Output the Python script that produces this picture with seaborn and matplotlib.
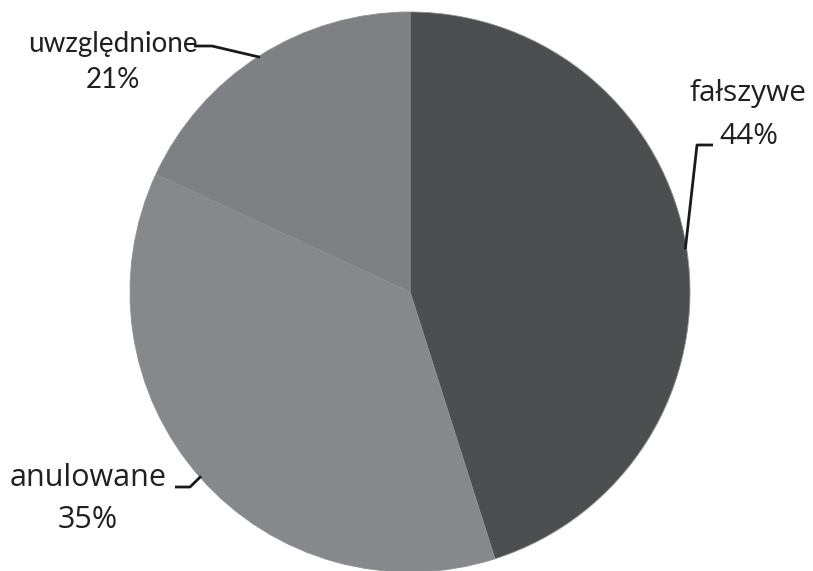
import numpy as np
import matplotlib.pyplot as plt
import seaborn as sns

# Data: slice sizes as drawn in the picture, labels as printed on it
categories = ['fałszywe', 'anulowane', 'uwzględnione']
shares = [45.1, 36.8, 18.1]
pct_labels = ['44%', '35%', '21%']
colors = ['#4d4e50', '#87888c', '#7f8084']

sns.set_theme(style='white')
plt.rcParams['font.family'] = ['Open Sans', 'DejaVu Sans']

W, H = 813, 571
CX, CY, R = 410, 292, 280  # pie centre and radius in pixels


def px(x, y):
    # pixel position -> data coords (radius = 1)
    return (x - CX) / R, (CY - y) / R


fig = plt.figure(figsize=(W / 100, H / 100), dpi=100)
ax = fig.add_axes([0, 0, 1, 1])
wedges, _ = ax.pie(shares, colors=colors, startangle=90, counterclock=False,
                   radius=1, wedgeprops=dict(edgecolor='#8e8f93', linewidth=0.6))
ax.set_xlim(-CX / R, (W - CX) / R)
ax.set_ylim(-(H - CY) / R, CY / R)
ax.axis('off')

txt_col = '#231f20'
# label layout: name position, pct position, elbow points, font
layout = {
    'fałszywe': dict(name=(748, 93), pct=(749, 137), elbow=[(713, 145), (697, 145)],
                     family='Open Sans', size=21.5),
    'anulowane': dict(name=(88, 478), pct=(88, 520), elbow=[(175, 487), (190, 487)],
                      family='Open Sans', size=22),
    'uwzględnione': dict(name=(113, 44), pct=(113, 80), elbow=[(194, 46), (212, 46)],
                         family='Lato', size=20),
}

for w, cat, pct in zip(wedges, categories, pct_labels):
    L = layout[cat]
    ax.text(*px(*L['name']), cat, ha='center', va='center', fontsize=L['size'],
            family=L['family'], color=txt_col)
    ax.text(*px(*L['pct']), pct, ha='center', va='center', fontsize=L['size'],
            family=L['family'], color=txt_col)
    mid = np.deg2rad((w.theta1 + w.theta2) / 2)
    pts = [px(*p) for p in L['elbow']] + [(0.995 * np.cos(mid), 0.995 * np.sin(mid))]
    xs, ys = zip(*pts)
    ax.plot(xs, ys, color='#1a1a1a', lw=2, solid_capstyle='butt')

fig.savefig('out.png', dpi=100)
